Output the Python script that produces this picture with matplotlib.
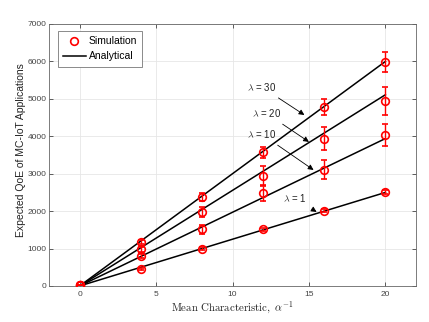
import matplotlib
matplotlib.use("Agg")
import matplotlib.pyplot as plt

plt.rcParams['mathtext.fontset'] = 'cm'
plt.rcParams['font.family'] = ['Liberation Sans', 'DejaVu Sans']

x_sim = [0, 4, 8, 12, 16, 20]
x_ana = [0, 20]

lambdas = [30, 20, 10, 1]
ana_end = [6000, 5110, 3940, 2500]

sim = {
    30: [20, 1180, 2380, 3570, 4780, 5980],
    20: [20, 980, 1980, 2950, 3940, 4940],
    10: [20, 800, 1510, 2480, 3110, 4030],
    1: [20, 450, 1000, 1510, 2010, 2510],
}
err = {
    30: [0, 50, 100, 150, 210, 270],
    20: [0, 60, 140, 250, 300, 380],
    10: [0, 50, 130, 200, 250, 300],
    1: [0, 20, 30, 30, 40, 60],
}

# label position, arrow tip (data coords)
notes = {
    30: ((11.9, 5320), (14.7, 4570)),
    20: ((12.2, 4620), (15.0, 3850)),
    10: ((11.9, 4060), (15.3, 3100)),
    1: ((14.05, 2350), (15.5, 1980)),
}

fig = plt.figure(figsize=(4.29, 3.22), dpi=100)
ax = fig.add_axes([49 / 429, 36 / 322, 367 / 429, 262 / 322])

for lam, end in zip(lambdas, ana_end):
    ax.plot(x_ana, [0, end], color='black', lw=1.1, zorder=2)
    ax.errorbar(x_sim, sim[lam], yerr=err[lam], fmt='o', mfc='none', mec='red',
                ecolor='red', ms=5.5, mew=1.2, elinewidth=1.0, capsize=2.2,
                capthick=1.0, zorder=3)

for lam in lambdas:
    txt, tip = notes[lam]
    ax.annotate(r'$\lambda$ = %d' % lam, xy=tip, xytext=txt, fontsize=7,
                ha='center', va='center', color='#222222',
                arrowprops=dict(arrowstyle='-|>', color='black', lw=0.6,
                                mutation_scale=8, shrinkA=3, shrinkB=0))

# legend proxies
ax.plot([], [], 'o', mfc='none', mec='red', mew=1.2, ms=5.5, label='Simulation')
ax.plot([], [], color='black', lw=1.1, label='Analytical')
handles, labels = ax.get_legend_handles_labels()
leg = ax.legend(handles[-2:], labels[-2:], loc='upper left', fontsize=7.5,
                bbox_to_anchor=(0.015, 0.985), fancybox=False, edgecolor='#777777',
                framealpha=1, borderpad=0.5, handlelength=2.2, handletextpad=0.3,
                labelspacing=0.5, borderaxespad=0.3)
leg.get_frame().set_linewidth(0.6)

ax.set_xlim(-2, 22)
ax.set_ylim(0, 7000)
ax.set_xticks([0, 5, 10, 15, 20])
ax.set_yticks(range(0, 7001, 1000))
ax.grid(True, color='#e6e6e6', lw=0.6)
ax.set_axisbelow(True)
ax.tick_params(direction='in', labelsize=6, colors='#444444', length=3,
               top=True, right=True, width=0.6)
ax.tick_params(axis='y', pad=2)
for s in ax.spines.values():
    s.set_color('#666666')
    s.set_linewidth(0.6)

ax.set_xlabel(r'$\mathrm{Mean\ Characteristic,}\ \alpha^{-1}$',
              fontsize=7.8, color='#222222', labelpad=1)
ax.set_ylabel('Expected QoE of MC-IoT Applications', fontsize=7.5,
              color='#222222')
ax.yaxis.set_label_coords(-0.063, 0.52)

fig.savefig('out.png', dpi=100)
